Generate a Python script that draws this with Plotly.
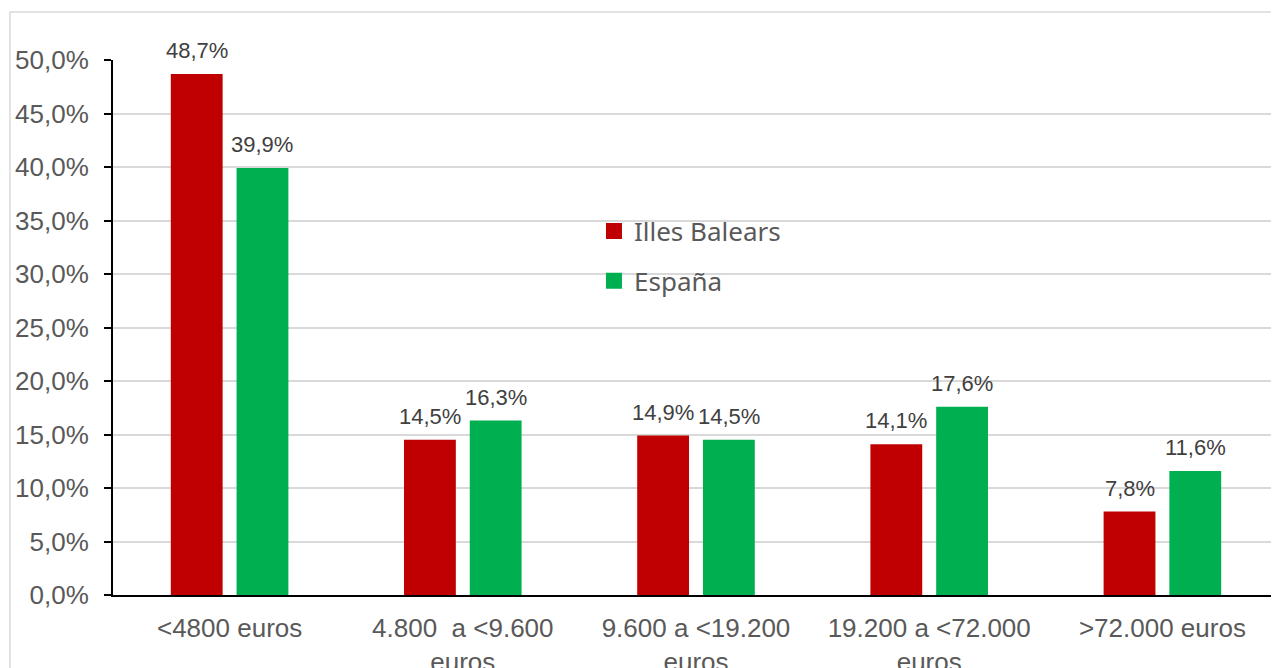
import plotly.graph_objects as go

categories = ["<4800 euros", "4.800\u00a0 a <9.600<br>euros", "9.600 a <19.200<br>euros",
              "19.200 a <72.000<br>euros", ">72.000 euros"]
series_names = ["Illes Balears", "España"]
baleares = [48.7, 14.5, 14.9, 14.1, 7.8]
espana = [39.9, 16.3, 14.5, 17.6, 11.6]
yticks = [0, 5, 10, 15, 20, 25, 30, 35, 40, 45, 50]
ytick_labels = ["0,0%", "5,0%", "10,0%", "15,0%", "20,0%", "25,0%", "30,0%", "35,0%",
                "40,0%", "45,0%", "50,0%"]

colors = ["#C00000", "#00B050"]
bargap = 0.436
bargroupgap = 0.212
W, H = 1271, 660
ml, mr, mt, mb = 105, 0, 52, 73

fig = go.Figure()
idx = list(range(len(categories)))
for name, vals, col in zip(series_names, [baleares, espana], colors):
    fig.add_trace(go.Bar(x=idx, y=vals, name=name, marker=dict(color=col, line=dict(width=0)),
                         showlegend=False, hoverinfo="skip"))
    fig.add_trace(go.Scatter(x=[None], y=[None], mode="markers", name=name, legendgroup=name,
                             marker=dict(symbol="square", size=16, color=col)))

# data labels
slot = (1 - bargap) / 2
annotations = []
for k, vals in enumerate([baleares, espana]):
    off = (k - 0.5) * slot
    for i, v in enumerate(vals):
        annotations.append(dict(x=i + off, y=v, xref="x", yref="y", text=f"{v:.1f}%".replace(".", ","),
                                showarrow=False, yanchor="bottom", yshift=9,
                                font=dict(family="Liberation Sans, Arial", size=22, color="#404040")))

fig.update_layout(
    width=W, height=H,
    margin=dict(l=ml, r=mr, t=mt, b=mb, pad=0, autoexpand=False),
    paper_bgcolor="white", plot_bgcolor="white",
    barmode="group", bargap=bargap, bargroupgap=bargroupgap,
    font=dict(family="Liberation Sans, Arial", size=26, color="#595959"),
    annotations=annotations,
    legend=dict(x=0.4125, y=0.724, xanchor="left", yanchor="top", bgcolor="rgba(0,0,0,0)",
                font=dict(family="Noto Sans", size=26, color="#595959"), tracegroupgap=13,
                itemclick=False),
    shapes=[dict(type="rect", xref="paper", yref="paper", x0=(2 - ml) / (W - ml - mr), x1=1.05,
                 y0=-0.3, y1=(H - mb - 4) / (H - mb - mt), line=dict(color="#D9D9D9", width=1.5),
                 fillcolor="rgba(0,0,0,0)", layer="below")],
)
fig.update_xaxes(type="linear", range=[-0.5, len(categories) - 0.5], tickvals=idx, ticktext=categories,
                 showgrid=False, zeroline=False, showline=True, linecolor="black", linewidth=2,
                 ticks="", tickfont=dict(size=26, color="#595959"), ticklabelstandoff=9,
                 automargin=False)
fig.update_yaxes(range=[0, 50], tickvals=yticks, ticktext=ytick_labels,
                 showgrid=True, gridcolor="#D9D9D9", gridwidth=1.5, zeroline=False,
                 showline=True, linecolor="black", linewidth=2, ticks="outside", ticklen=7,
                 tickwidth=2, tickcolor="black", tickfont=dict(size=26, color="#595959"),
                 ticklabelstandoff=10, automargin=False)

fig.write_html("out.html")
